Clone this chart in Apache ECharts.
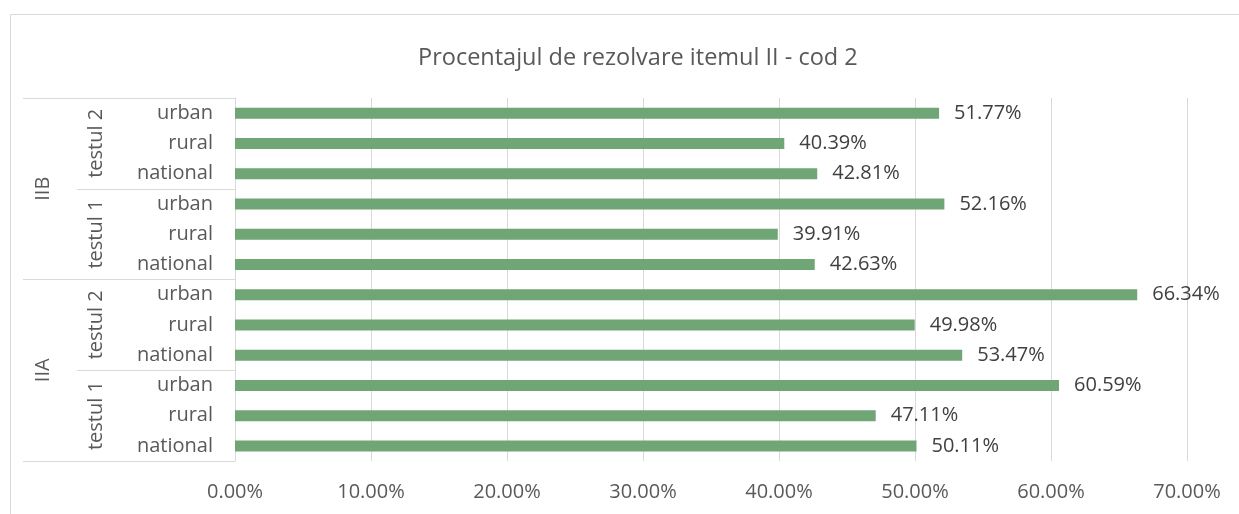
<!DOCTYPE html>
<html>
<head>
<meta charset="utf-8">
<script src="https://cdn.jsdelivr.net/npm/echarts@6/dist/echarts.min.js"></script>
<style>
  html, body { margin: 0; padding: 0; background: #fff; }
  #chart { width: 1239px; height: 514px; }
</style>
</head>
<body>
<div id="chart"></div>
<script>
// categories, bottom to top
var subCats = ['national', 'rural', 'urban', 'national', 'rural', 'urban',
               'national', 'rural', 'urban', 'national', 'rural', 'urban'];
var testCats = ['testul 1', 'testul 2', 'testul 1', 'testul 2'];
var itemCats = ['IIA', 'IIB'];
// procent de rezolvare
var values = [0.5011, 0.4711, 0.6059, 0.5347, 0.4998, 0.6634,
              0.4263, 0.3991, 0.5216, 0.4281, 0.4039, 0.5177];
var xTicks = { min: 0, max: 0.7, step: 0.1 };

var chart = echarts.init(document.getElementById('chart'));
var font = 'Open Sans';
var gray = '#d9d9d9';
var fs = 20;

var pct = function(v){ return (v * 100).toFixed(2) + '%'; };

var option = {
  animation: false,
  textStyle: { fontFamily: font },
  title: {
    text: 'Procentajul de rezolvare itemul II - cod 2',
    left: 413,
    top: 41,
    textStyle: { fontFamily: font, fontSize: 23.5, fontWeight: 'normal', color: '#595959' }
  },
  graphic: [{
    type: 'rect',
    shape: { x: 10.5, y: 14.5, width: 1240, height: 520 },
    style: { fill: 'none', stroke: gray, lineWidth: 1 },
    silent: true
  }],
  grid: { left: 235, right: 52, top: 98, bottom: 53 },
  xAxis: {
    type: 'value',
    min: xTicks.min,
    max: xTicks.max,
    interval: xTicks.step,
    axisLine: { show: false },
    axisTick: { show: false },
    splitLine: { lineStyle: { color: gray, width: 1 } },
    axisLabel: {
      formatter: pct,
      color: '#595959',
      fontSize: fs,
      margin: 21
    }
  },
  yAxis: [{
    type: 'category',
    data: subCats,
    axisLine: { lineStyle: { color: gray } },
    axisTick: { show: false },
    axisLabel: { color: '#595959', fontSize: fs, margin: 22 }
  }, {
    type: 'category',
    data: testCats,
    position: 'left',
    offset: 158,
    axisLine: { show: false },
    axisTick: { show: true, inside: true, length: 158, lineStyle: { color: gray } },
    axisLabel: { inside: true, rotate: 90, color: '#595959', fontSize: fs, margin: 9 }
  }, {
    type: 'category',
    data: itemCats,
    position: 'left',
    offset: 212,
    axisLine: { show: false },
    axisTick: { show: true, inside: true, length: 212, lineStyle: { color: gray } },
    axisLabel: { inside: true, rotate: 90, color: '#595959', fontSize: fs, margin: 10 }
  }],
  series: [{
    type: 'bar',
    yAxisIndex: 0,
    data: values,
    barWidth: 11,
    itemStyle: { color: '#70a575' },
    label: {
      show: true,
      position: 'right',
      distance: 15,
      formatter: function(p){ return pct(p.value); },
      color: '#404040',
      fontSize: fs
    }
  }]
};

chart.setOption(option);
</script>
</body>
</html>
